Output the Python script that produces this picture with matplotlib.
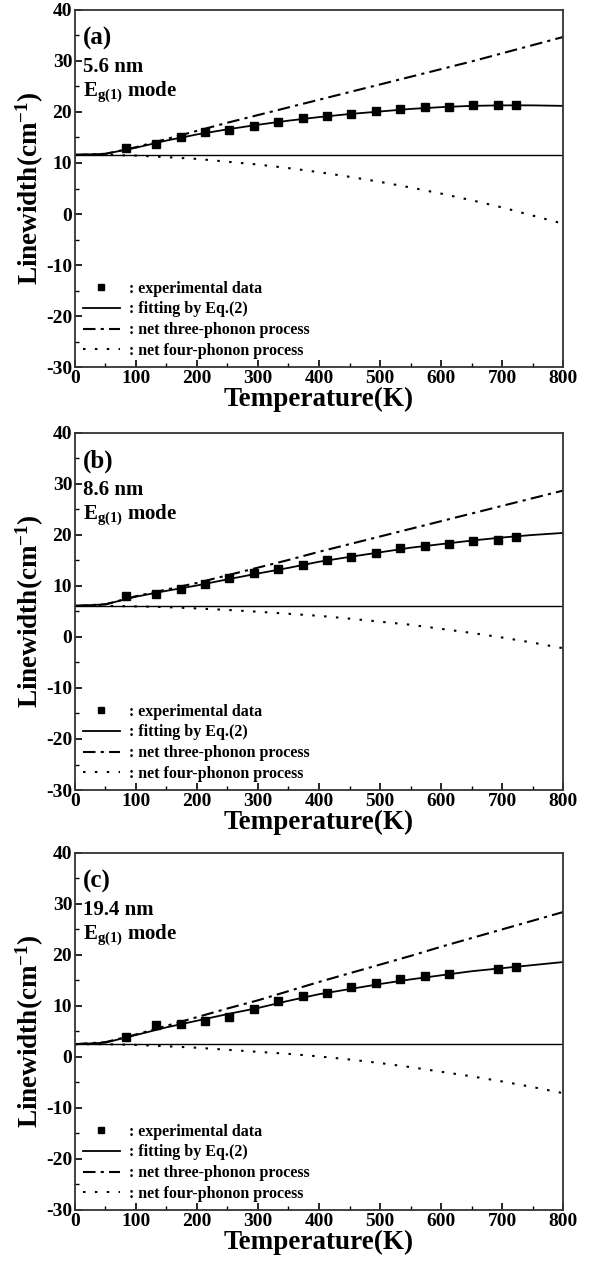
import numpy as np
import matplotlib
matplotlib.use("Agg")
import matplotlib.pyplot as plt
from matplotlib.ticker import MultipleLocator

plt.rcParams['font.family'] = ['Liberation Serif', 'DejaVu Serif']
plt.rcParams['font.weight'] = 'bold'
plt.rcParams['axes.unicode_minus'] = False
plt.rcParams['mathtext.fontset'] = 'custom'
plt.rcParams['mathtext.rm'] = 'Liberation Serif:bold'
plt.rcParams['mathtext.bf'] = 'Liberation Serif:bold'
plt.rcParams['mathtext.it'] = 'Liberation Serif:bold:italic'
plt.rcParams['mathtext.default'] = 'rm'

# measured temperatures (K)
T_exp = [83, 133, 173, 213, 253, 293, 333, 373, 413, 453, 493, 533, 573, 613, 653, 693, 723]
T_exp_c = [83, 133, 173, 213, 253, 293, 333, 373, 413, 453, 493, 533, 573, 613, 693, 723]

# linewidths (cm^-1)
w_a = [13.0, 13.7, 15.0, 16.1, 16.5, 17.3, 18.0, 18.9, 19.2, 19.7, 20.2, 20.6, 20.9, 20.9, 21.3, 21.4, 21.4]
w_b = [8.0, 8.5, 9.4, 10.3, 11.6, 12.5, 13.4, 14.2, 15.1, 15.6, 16.5, 17.4, 17.8, 18.2, 18.8, 19.1, 19.6]
w_c = [3.9, 6.3, 6.5, 7.0, 7.8, 9.3, 10.9, 12.0, 12.5, 13.7, 14.4, 15.2, 15.9, 16.3, 17.2, 17.7]

# curves sampled every 50 K
T_curve = [0, 50, 100, 150, 200, 250, 300, 350, 400, 450, 500, 550, 600, 650, 700, 750, 800]

fit_a = [11.6, 11.8, 13.0, 14.4, 15.6, 16.6, 17.5, 18.3, 19.0, 19.6, 20.1, 20.6, 20.95, 21.2, 21.3, 21.3, 21.2]
three_a = [11.6, 11.8, 13.1, 14.7, 16.3, 17.9, 19.4, 20.9, 22.4, 23.9, 25.4, 26.9, 28.4, 29.9, 31.5, 33.1, 34.7]
four_a = [11.6, 11.6, 11.45, 11.15, 10.8, 10.25, 9.7, 9.0, 8.2, 7.3, 6.3, 5.2, 4.0, 2.7, 1.3, -0.3, -1.9]

fit_b = [6.1, 6.4, 7.9, 9.05, 10.1, 11.3, 12.45, 13.55, 14.75, 15.7, 16.6, 17.5, 18.2, 18.9, 19.5, 20.0, 20.4]
three_b = [6.1, 6.4, 8.0, 9.3, 10.6, 12.1, 13.6, 15.1, 16.7, 18.2, 19.7, 21.2, 22.7, 24.2, 25.7, 27.2, 28.7]
four_b = [6.1, 6.1, 6.0, 5.85, 5.6, 5.3, 4.95, 4.55, 4.15, 3.6, 3.0, 2.4, 1.6, 0.8, -0.1, -1.1, -2.2]

fit_c = [2.5, 2.8, 4.3, 5.8, 7.1, 8.4, 9.6, 11.0, 12.3, 13.3, 14.3, 15.2, 16.0, 16.8, 17.4, 18.0, 18.6]
three_c = [2.5, 2.9, 4.4, 6.1, 7.8, 9.5, 11.1, 12.9, 14.7, 16.4, 18.1, 19.8, 21.6, 23.3, 25.0, 26.7, 28.4]
four_c = [2.5, 2.5, 2.35, 2.1, 1.8, 1.4, 1.0, 0.6, 0.1, -0.5, -1.2, -2.0, -2.9, -3.8, -4.8, -5.9, -7.1]

gamma0 = [11.6, 6.1, 2.5]
panel_tags = ['(a)', '(b)', '(c)']
sizes = ['5.6 nm', '8.6 nm', '19.4 nm']

panels = [
    (T_exp, w_a, fit_a, three_a, four_a),
    (T_exp, w_b, fit_b, three_b, four_b),
    (T_exp_c, w_c, fit_c, three_c, four_c),
]

fig = plt.figure(figsize=(5.89, 12.63), dpi=100)
bottoms = [0.7094, 0.3745, 0.0420]

for i, (tx, wy, fit, three, four) in enumerate(panels):
    ax = fig.add_axes([0.1273, bottoms[i], 0.8286, 0.2827])
    ax.axhline(gamma0[i], color='black', lw=1.0)
    ax.plot(tx, wy, 's', color='black', ms=6.3, label=': experimental data', zorder=5)
    ax.plot(T_curve, fit, '-', color='black', lw=1.3, label=': fitting by Eq.(2)')
    ax.plot(T_curve, three, color='black', lw=1.5, dashes=(6, 2.5, 1.5, 2.5),
            label=': net three-phonon process')
    ax.plot(T_curve, four, color='black', lw=1.5, dashes=(1.2, 4.5),
            label=': net four-phonon process')

    ax.set_xlim(0, 800)
    ax.set_ylim(-30, 40)
    ax.xaxis.set_major_locator(MultipleLocator(100))
    ax.xaxis.set_minor_locator(MultipleLocator(50))
    ax.yaxis.set_major_locator(MultipleLocator(10))
    ax.yaxis.set_minor_locator(MultipleLocator(5))
    ax.tick_params(which='both', direction='in', labelsize=14, pad=2)
    ax.tick_params(which='major', length=5, width=1.2)
    ax.tick_params(which='minor', length=3, width=1.0)
    for sp in ax.spines.values():
        sp.set_linewidth(1.3)
        sp.set_color('#333333')

    ax.set_xlabel('Temperature(K)', fontsize=19.5, fontweight='bold', labelpad=0)
    ax.set_ylabel(r'Linewidth(cm$^{\mathregular{-1}}$)', fontsize=19.5, fontweight='bold', labelpad=0)

    ax.text(0.016, 0.92, panel_tags[i], transform=ax.transAxes, fontsize=18,
            fontweight='bold', va='center', ha='left')
    ax.text(0.016, 0.84, sizes[i], transform=ax.transAxes, fontsize=15,
            fontweight='bold', va='center', ha='left')
    ax.text(0.016, 0.772, r'E$_{\mathregular{g(1)}}$ mode', transform=ax.transAxes,
            fontsize=15, fontweight='bold', va='center', ha='left')

    leg = ax.legend(loc='lower left', bbox_to_anchor=(0.0, 0.0), frameon=False,
                    fontsize=11.5, handlelength=2.3, handletextpad=0.6,
                    labelspacing=0.3, borderaxespad=0.25, borderpad=0.25,
                    markerscale=0.75)
    for t in leg.get_texts():
        t.set_fontweight('bold')

fig.savefig('out.png', dpi=100)
